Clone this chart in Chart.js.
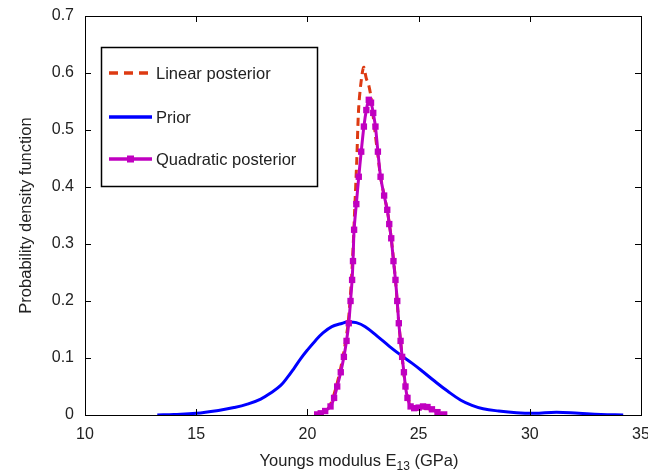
<!DOCTYPE html>
<html>
<head>
<meta charset="utf-8">
<script src="https://cdn.jsdelivr.net/npm/chart.js@4"></script>
<style>
  html, body { margin: 0; padding: 0; background: #fff; }
  #wrap { width: 648px; height: 474px; position: relative; }
</style>
</head>
<body>
<div id="wrap"><canvas id="pdf"></canvas></div>
<script>
const xTicks = [10, 15, 20, 25, 30, 35];
const yTicks = [0, 0.1, 0.2, 0.3, 0.4, 0.5, 0.6, 0.7];

const seriesNames = ["Linear posterior", "Prior", "Quadratic posterior"];

const priorX = [13.25, 14, 15, 16, 16.7, 17.3, 17.9, 18.4, 18.8, 19.1, 19.4, 19.7, 20, 20.35, 20.7, 21.1, 21.5, 21.8, 22.2, 22.6, 23.15, 23.7, 24.2, 24.7, 25.1, 25.7, 26.3, 26.9, 27.4, 27.9, 28.6, 29.4, 30.2, 31.2, 32.2, 33.2, 34.2];
const priorY = [0, 0.001, 0.003, 0.008, 0.013, 0.019, 0.028, 0.040, 0.052, 0.066, 0.082, 0.099, 0.114, 0.130, 0.144, 0.155, 0.160, 0.163, 0.162, 0.155, 0.138, 0.120, 0.105, 0.091, 0.079, 0.060, 0.042, 0.026, 0.017, 0.011, 0.007, 0.004, 0.003, 0.005, 0.003, 0.001, 0];

const linearX = [20.4, 20.6, 20.8, 21.0, 21.3, 21.6, 21.83, 21.98, 22.07, 22.12, 22.22, 22.3, 22.4, 22.53, 22.65, 22.75, 22.85, 22.97, 23.06, 23.17, 23.29, 23.45, 23.59, 23.77, 23.96, 24.11, 24.26, 24.41, 24.64, 24.8, 25.0, 25.3, 25.6, 25.9, 26.2];
const linearY = [0.001, 0.003, 0.007, 0.015, 0.05, 0.102, 0.161, 0.237, 0.307, 0.354, 0.447, 0.535, 0.58, 0.61, 0.59, 0.58, 0.56, 0.52, 0.49, 0.455, 0.418, 0.385, 0.36, 0.31, 0.237, 0.161, 0.102, 0.05, 0.015, 0.01, 0.01, 0.012, 0.009, 0.004, 0.001];

const quadX = [20.44, 20.6, 20.8, 21.04, 21.2, 21.34, 21.5, 21.64, 21.76, 21.86, 21.94, 22.01, 22.05, 22.1, 22.2, 22.31, 22.42, 22.54, 22.65, 22.76, 22.86, 22.96, 23.06, 23.17, 23.29, 23.45, 23.59, 23.68, 23.77, 23.87, 23.96, 24.04, 24.11, 24.19, 24.26, 24.34, 24.41, 24.5, 24.64, 24.8, 25.0, 25.2, 25.4, 25.6, 25.85, 26.15];
const quadY = [0.001, 0.003, 0.007, 0.015, 0.03, 0.05, 0.075, 0.102, 0.13, 0.161, 0.2, 0.237, 0.27, 0.325, 0.37, 0.418, 0.462, 0.506, 0.535, 0.553, 0.548, 0.53, 0.506, 0.462, 0.418, 0.385, 0.36, 0.335, 0.31, 0.27, 0.237, 0.2, 0.161, 0.13, 0.102, 0.075, 0.05, 0.03, 0.015, 0.012, 0.013, 0.015, 0.014, 0.01, 0.005, 0.001];

const RED = "#dd3a12";
const BLUE = "#0000ff";
const MAGENTA = "#c000c0";
const FONT = "'Liberation Sans', Arial, sans-serif";
const TEXT = "#222222";

function toPoints(xs, ys) {
    return xs.map((x, i) => ({ x: x, y: ys[i] }));
}

// box, inward ticks, legend and x title with subscript
const framePlugin = {
    id: "frame",
    afterDraw(chart) {
        const ctx = chart.ctx;
        const area = chart.chartArea;
        const xs = chart.scales.x;
        const ys = chart.scales.y;
        const tl = 6;

        ctx.save();
        ctx.strokeStyle = "#000";
        ctx.lineWidth = 1;
        ctx.strokeRect(Math.round(area.left) + 0.5, Math.round(area.top) + 0.5,
            Math.round(area.right - area.left), Math.round(area.bottom - area.top));

        ctx.beginPath();
        xTicks.forEach(v => {
            const px = Math.round(xs.getPixelForValue(v)) + 0.5;
            ctx.moveTo(px, area.bottom);
            ctx.lineTo(px, area.bottom - tl);
            ctx.moveTo(px, area.top);
            ctx.lineTo(px, area.top + tl);
        });
        yTicks.forEach(v => {
            const py = Math.round(ys.getPixelForValue(v)) + 0.5;
            ctx.moveTo(area.left, py);
            ctx.lineTo(area.left + tl, py);
            ctx.moveTo(area.right, py);
            ctx.lineTo(area.right - tl, py);
        });
        ctx.stroke();

        // legend
        const lx = 101, ly = 47, lw = 216, lh = 139;
        ctx.fillStyle = "#fff";
        ctx.fillRect(lx, ly, lw, lh);
        ctx.strokeStyle = "#000";
        ctx.lineWidth = 1.5;
        ctx.strokeRect(lx + 0.5, ly + 0.5, lw, lh);

        const rows = [73, 117, 159];
        const styles = [
            { color: RED, dash: [9, 6], marker: false },
            { color: BLUE, dash: [], marker: false },
            { color: MAGENTA, dash: [], marker: true },
        ];
        ctx.font = "16.5px " + FONT;
        ctx.textBaseline = "middle";
        rows.forEach((ry, i) => {
            const s = styles[i];
            ctx.strokeStyle = s.color;
            ctx.lineWidth = 3.5;
            ctx.setLineDash(s.dash);
            ctx.beginPath();
            ctx.moveTo(109, ry);
            ctx.lineTo(152, ry);
            ctx.stroke();
            ctx.setLineDash([]);
            if (s.marker) {
                ctx.fillStyle = s.color;
                ctx.fillRect(127, ry - 3.5, 7, 7);
            }
            ctx.fillStyle = TEXT;
            ctx.textAlign = "left";
            ctx.fillText(seriesNames[i], 156, ry + 1);
        });

        // x axis title
        const cx = (area.left + area.right) / 2 - 4;
        const by = 466;
        const p1 = "Youngs modulus E";
        const sub = "13";
        const p2 = " (GPa)";
        ctx.font = "16.5px " + FONT;
        const w1 = ctx.measureText(p1).width;
        const w3 = ctx.measureText(p2).width;
        ctx.font = "12px " + FONT;
        const w2 = ctx.measureText(sub).width;
        let x0 = cx - (w1 + w2 + w3) / 2;
        ctx.textAlign = "left";
        ctx.textBaseline = "alphabetic";
        ctx.fillStyle = TEXT;
        ctx.font = "16.5px " + FONT;
        ctx.fillText(p1, x0, by);
        ctx.font = "12px " + FONT;
        ctx.fillText(sub, x0 + w1, by + 4);
        ctx.font = "16.5px " + FONT;
        ctx.fillText(p2, x0 + w1 + w2, by);
        ctx.restore();
    }
};

new Chart(document.getElementById("pdf"), {
    type: "line",
    data: {
        datasets: [
            {
                label: seriesNames[0],
                data: toPoints(linearX, linearY),
                borderColor: RED,
                borderWidth: 3,
                borderDash: [8, 5],
                pointRadius: 0,
                tension: 0.3,
                order: 2,
            },
            {
                label: seriesNames[1],
                data: toPoints(priorX, priorY),
                borderColor: BLUE,
                borderWidth: 3,
                pointRadius: 0,
                tension: 0.4,
                order: 1,
            },
            {
                label: seriesNames[2],
                data: toPoints(quadX, quadY),
                borderColor: MAGENTA,
                backgroundColor: MAGENTA,
                borderWidth: 3,
                pointStyle: "rect",
                pointRadius: 4.5,
                pointBorderWidth: 0,
                tension: 0.3,
                order: 0,
            },
        ],
    },
    options: {
        responsive: true,
        maintainAspectRatio: false,
        animation: false,
        events: [],
        layout: { padding: { top: 16, right: 7, left: 0, bottom: 0 } },
        plugins: {
            legend: { display: false },
            tooltip: { enabled: false },
        },
        scales: {
            x: {
                type: "linear",
                min: 10,
                max: 35,
                afterBuildTicks: s => { s.ticks = xTicks.map(v => ({ value: v })); },
                afterFit: s => { s.height = 59; s.paddingLeft = 0; s.paddingRight = 0; },
                grid: { display: false, drawTicks: false },
                border: { display: false },
                ticks: {
                    padding: 10,
                    color: TEXT,
                    font: { family: FONT, size: 16 },
                    maxRotation: 0,
                    callback: v => String(v),
                },
            },
            y: {
                type: "linear",
                min: 0,
                max: 0.7,
                afterBuildTicks: s => { s.ticks = yTicks.map(v => ({ value: v })); },
                afterFit: s => { s.width = 85; s.paddingTop = 0; s.paddingBottom = 0; },
                grid: { display: false, drawTicks: false },
                border: { display: false },
                ticks: {
                    padding: 11,
                    color: TEXT,
                    font: { family: FONT, size: 16 },
                    callback: v => (v === 0 ? "0" : v.toFixed(1)),
                },
                title: {
                    display: true,
                    text: "Probability density function",
                    color: TEXT,
                    font: { family: FONT, size: 16.5 },
                    padding: { top: 17, bottom: 0 },
                },
            },
        },
    },
    plugins: [framePlugin],
});
</script>
</body>
</html>
